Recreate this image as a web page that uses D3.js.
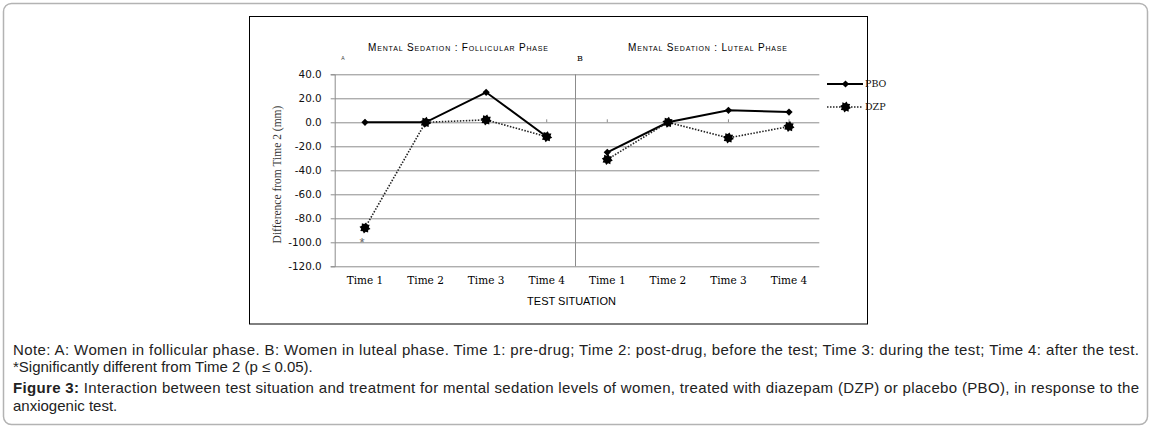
<!DOCTYPE html>
<html>
<head>
<meta charset="utf-8">
<script src="https://cdn.jsdelivr.net/npm/d3@7"></script>
<style>
  body { margin: 0; background: #fff; }
  svg { display: block; }
</style>
</head>
<body>
<svg id="fig" width="1152" height="429"></svg>
<script>
// data
const categories = ["Time 1", "Time 2", "Time 3", "Time 4"];
const panels     = ["A", "B"];
const pboA = [0, 0, 25, -12];
const dzpA = [-88, 0, 2, -12];
const pboB = [-25, 0, 10, 8.5];
const dzpB = [-31, 0, -13, -3.5];
const yTicks = [40, 20, 0, -20, -40, -60, -80, -100, -120];
const panelTitles = ["Mental Sedation : Follicular Phase", "Mental Sedation : Luteal Phase"];
const seriesNames = ["PBO", "DZP"];

const svg = d3.select("#fig");

// outer frame + chart box
svg.append("rect").attr("x", 3.5).attr("y", 3.5).attr("width", 1144).attr("height", 421)
  .attr("rx", 8).attr("fill", "#fff").attr("stroke", "#b3b3b3").attr("stroke-width", 1.5);
svg.append("rect").attr("x", 249.5).attr("y", 16.5).attr("width", 618).attr("height", 307.5)
  .attr("fill", "#fff").attr("stroke", "#000").attr("stroke-width", 1);

const keys = panels.flatMap(p => categories.map(c => p + "|" + c));
const x = d3.scaleBand().domain(keys).range([334.7, 819.3]).padding(0);
const cx = k => x(k) + x.bandwidth() / 2;
const y = d3.scaleLinear().domain([-120, 40]).range([266.3, 74.3]);

const grey = "#8c8c8c";

// gridlines
svg.append("g")
  .attr("transform", `translate(${x.range()[0]},0)`)
  .call(d3.axisLeft(y).tickValues(yTicks).tickSize(-(x.range()[1] - x.range()[0])).tickFormat(""))
  .call(g => g.select(".domain").remove())
  .call(g => g.selectAll("line").attr("stroke", grey).attr("stroke-width", 1));

// y axis
svg.append("g")
  .attr("transform", `translate(${x.range()[0]},0)`)
  .call(d3.axisLeft(y).tickValues(yTicks).tickSize(4).tickPadding(9).tickFormat(d => d.toFixed(1)))
  .call(g => g.select(".domain").attr("stroke", grey))
  .call(g => g.selectAll("line").attr("stroke", grey))
  .call(g => g.selectAll("text").attr("font-family", "DejaVu Sans").attr("font-size", 10.4).attr("fill", "#111"));

// panel divider
const divX = x(panels[1] + "|" + categories[0]) - 1.5;
svg.append("line").attr("x1", divX).attr("x2", divX).attr("y1", y(40)).attr("y2", y(-120))
  .attr("stroke", grey);

// small ticks on the zero line
svg.append("g").selectAll("line").data(keys).join("line")
  .attr("x1", cx).attr("x2", cx).attr("y1", y(0)).attr("y2", y(0) - 3)
  .attr("stroke", grey);

// x tick labels
svg.append("g")
  .attr("transform", `translate(0,${y(-120)})`)
  .call(d3.axisBottom(x).tickSize(0).tickPadding(10).tickFormat(k => k.split("|")[1]))
  .call(g => g.select(".domain").remove())
  .call(g => g.selectAll("text").attr("font-family", "DejaVu Serif").attr("font-size", 10.5).attr("fill", "#000"));

// axis titles
svg.append("text").attr("x", 571.5).attr("y", 305).attr("text-anchor", "middle")
  .attr("font-family", "Liberation Sans").attr("font-size", 11).attr("fill", "#000")
  .text("TEST SITUATION");
svg.append("text").attr("transform", "translate(281,174.5) rotate(-90)").attr("text-anchor", "middle")
  .attr("font-family", "Liberation Serif").attr("font-size", 11.5).attr("fill", "#333")
  .text("Difference from Time 2 (mm)");

// panel titles
const titleX = [368, 628], titleW = [180, 159];
panelTitles.forEach((t, i) => {
  svg.append("text").attr("x", titleX[i]).attr("y", 50.5)
    .attr("font-family", "Liberation Sans").attr("font-size", 10).attr("fill", "#000")
    .style("font-variant", "small-caps")
    .attr("textLength", titleW[i]).attr("lengthAdjust", "spacing")
    .text(t);
});
svg.append("text").attr("x", 343).attr("y", 59.5).attr("text-anchor", "middle")
  .attr("font-family", "Liberation Sans").attr("font-size", 5).attr("fill", "#333").text(panels[0]);
svg.append("text").attr("x", 580).attr("y", 60.5).attr("text-anchor", "middle")
  .attr("font-family", "DejaVu Serif").attr("font-size", 8).attr("fill", "#000").text(panels[1]);

// markers
const diamond = d3.symbol().type(d3.symbolSquare).size(26);
const starPts = d3.range(16).map(i => {
  const a = i * Math.PI / 8, r = i % 2 ? 3.9 : 5.6;
  return [r * Math.cos(a), r * Math.sin(a)];
});
const star = "M" + starPts.join("L") + "Z";
function drawPbo(g, px, py) {
  g.append("path").attr("d", diamond()).attr("fill", "#000")
    .attr("transform", `translate(${px},${py}) rotate(45)`);
}
function drawDzp(g, px, py) {
  g.append("path").attr("d", star).attr("fill", "#000")
    .attr("transform", `translate(${px},${py}) rotate(11.25)`);
}

const line = d3.line().x(d => cx(d.k)).y(d => y(d.v));
const plot = svg.append("g");
const series = [
  {name: "PBO", panel: "A", vals: pboA},
  {name: "PBO", panel: "B", vals: pboB},
  {name: "DZP", panel: "A", vals: dzpA},
  {name: "DZP", panel: "B", vals: dzpB}
];
series.forEach(s => {
  const pts = s.vals.map((v, i) => ({k: s.panel + "|" + categories[i], v}));
  const isP = s.name === "PBO";
  plot.append("path").datum(pts).attr("d", line).attr("fill", "none")
    .attr("stroke", isP ? "#000" : "#222")
    .attr("stroke-width", isP ? 2 : 1.6)
    .attr("stroke-dasharray", isP ? null : "1.5 1.5");
  pts.forEach(p => (isP ? drawPbo : drawDzp)(plot, cx(p.k), y(p.v)));
});

// significance mark
svg.append("text").attr("x", cx("A|Time 1") - 3).attr("y", y(dzpA[0]) + 19)
  .attr("text-anchor", "middle").attr("font-family", "Liberation Sans").attr("font-size", 13)
  .attr("fill", "#666").text("*");

// legend
const leg = svg.append("g");
seriesNames.forEach((n, i) => {
  const ly = 84 + i * 23;
  const isP = n === "PBO";
  leg.append("line").attr("x1", 827).attr("x2", 863).attr("y1", ly).attr("y2", ly)
    .attr("stroke", isP ? "#000" : "#222").attr("stroke-width", isP ? 2 : 1.6)
    .attr("stroke-dasharray", isP ? null : "1.5 1.5");
  (isP ? drawPbo : drawDzp)(leg, 845.5, ly);
  leg.append("text").attr("x", 865).attr("y", ly + 3)
    .attr("font-family", "DejaVu Serif").attr("font-size", 9.5).attr("fill", "#111").text(n);
});

// caption
const cap = svg.append("g").attr("font-family", "Liberation Sans").attr("font-size", 15).attr("fill", "#222");
cap.append("text").attr("x", 13).attr("y", 354.5).attr("textLength", 1126).attr("lengthAdjust", "spacing")
  .text("Note: A: Women in follicular phase. B: Women in luteal phase. Time 1: pre-drug; Time 2: post-drug, before the test; Time 3: during the test; Time 4: after the test.");
cap.append("text").attr("x", 13).attr("y", 372)
  .text("*Significantly different from Time 2 (p \u2264 0.05).");
const fig = cap.append("text").attr("x", 13).attr("y", 393).attr("textLength", 1126).attr("lengthAdjust", "spacing");
fig.append("tspan").attr("font-weight", "bold").text("Figure 3:");
fig.append("tspan").text(" Interaction between test situation and treatment for mental sedation levels of women, treated with diazepam (DZP) or placebo (PBO), in response to the");
cap.append("text").attr("x", 13).attr("y", 411).text("anxiogenic test.");
</script>
</body>
</html>
